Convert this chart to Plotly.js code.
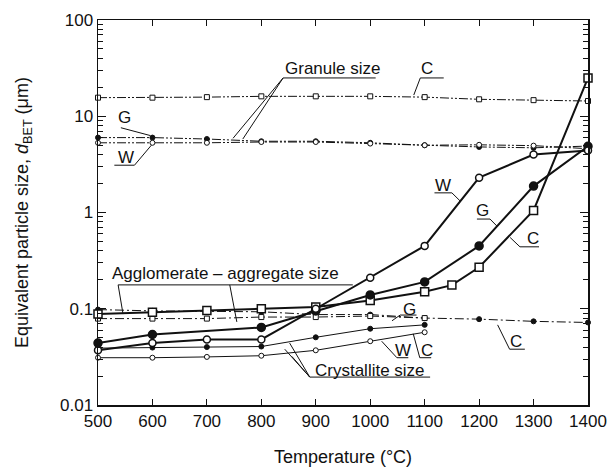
<!DOCTYPE html>
<html>
<head>
<meta charset="utf-8">
<script src="https://cdn.plot.ly/plotly-3.0.1.min.js"></script>
<style>
  html, body { margin: 0; padding: 0; background: #fff; }
  #chart { width: 614px; height: 468px; }
</style>
</head>
<body>
<div id="chart"></div>
<script>
// Calcination temperature (°C)
const temps = [500, 600, 700, 800, 900, 1000, 1100, 1200, 1300, 1400];

// Granule size (µm)
const granuleC = [15.6, 15.6, 15.8, 16.1, 16.1, 16.1, 15.8, 15.0, 14.7, 14.4];
const granuleG = [6.0, 6.0, 5.8, 5.5, 5.5, 5.3, 5.0, 4.8, 4.7, 4.9];
const granuleW = [5.3, 5.3, 5.3, 5.4, 5.4, 5.2, 5.0, 5.05, 4.95, 4.6];

// Agglomerate-aggregate size (µm)
const aggTempsC = [500, 600, 700, 800, 900, 1000, 1100, 1150, 1200, 1300, 1400];
const aggC = [0.088, 0.092, 0.096, 0.100, 0.104, 0.122, 0.150, 0.176, 0.27, 1.05, 25];
const aggTempsG = [500, 600, 800, 900, 1000, 1100, 1200, 1300, 1400];
const aggG = [0.044, 0.054, 0.064, 0.095, 0.139, 0.19, 0.45, 1.88, 4.87];
const aggTempsW = [500, 600, 700, 800, 900, 1000, 1100, 1200, 1300, 1400];
const aggW = [0.037, 0.044, 0.048, 0.048, 0.10, 0.21, 0.45, 2.3, 4.0, 4.4];

// Fine-scale dash-dot series near 0.08 µm
const fineTempsA = [500, 600, 700, 800, 900, 1000, 1100, 1200, 1300, 1400];
const fineA = [0.098, 0.095, 0.094, 0.093, 0.087, 0.087, 0.080, 0.078, 0.074, 0.072];
const fineTempsB = [500, 600, 700, 800, 900, 1000, 1100];
const fineB = [0.079, 0.079, 0.079, 0.082, 0.082, 0.084, 0.080];

// Crystallite size (µm)
const crystTemps = [500, 600, 700, 800, 900, 1000, 1100];
const crystG = [0.039, 0.0395, 0.040, 0.0405, 0.0505, 0.062, 0.068];
const crystW = [0.031, 0.031, 0.0316, 0.0325, 0.037, 0.046, 0.057];

// Axis ticks
const xTicks = [500, 600, 700, 800, 900, 1000, 1100, 1200, 1300, 1400];
const yTickVals = [0.01, 0.1, 1, 10, 100];
const yTickText = ['0.01', '0.1', '1', '10', '100'];
const yMinorVals = [];
for (let e = -2; e < 2; e++) {
  for (let m = 2; m <= 9; m++) yMinorVals.push(m * Math.pow(10, e));
}

const INK = '#111';
const FONT = 'Liberation Sans, Arial, sans-serif';
const granuleDash = '9px,2px,2px,2px,2px,2px';
const dashDot = '9px,3px,2px,3px';

function series(x, y, o) {
  return {
    x: x, y: y, type: 'scatter', mode: 'lines+markers', hoverinfo: 'skip',
    cliponaxis: false,
    line: { color: INK, width: o.w, dash: o.dash || 'solid' },
    marker: { symbol: o.sym, size: o.size, color: o.fill ? INK : '#fff',
              line: { color: INK, width: o.mw || 1 } }
  };
}

const traces = [
  series(temps, granuleC, { w: 1, dash: granuleDash, sym: 'square', size: 5 }),
  series(temps, granuleG, { w: 1, dash: granuleDash, sym: 'circle', size: 5, fill: true }),
  series(temps, granuleW, { w: 1, dash: granuleDash, sym: 'circle', size: 5 }),
  series(fineTempsA, fineA, { w: 1, dash: dashDot, sym: 'circle', size: 5, fill: true }),
  series(fineTempsB, fineB, { w: 1, dash: dashDot, sym: 'square', size: 5 }),
  series(crystTemps, crystG, { w: 1, sym: 'circle', size: 5, fill: true }),
  series(crystTemps, crystW, { w: 1, sym: 'circle', size: 5 }),
  series(aggTempsC, aggC, { w: 2, sym: 'square', size: 8, mw: 1.5 }),
  series(aggTempsG, aggG, { w: 2, sym: 'circle', size: 8, fill: true, mw: 1.5 }),
  series(aggTempsW, aggW, { w: 2, sym: 'circle', size: 7, mw: 1.5 })
];

// Labels, underlines and leader lines in data coordinates
const lbl = [];
const shp = [];
function text(x, y, s, size, anchor) {
  lbl.push({ x: x, y: Math.log10(y), xref: 'x', yref: 'y', text: s, showarrow: false,
             xanchor: anchor || 'center', yanchor: 'middle',
             font: { family: FONT, size: size || 17, color: INK } });
}
function seg(x0, y0, x1, y1) {
  shp.push({ type: 'line', xref: 'x', yref: 'y', x0: x0, y0: y0, x1: x1, y1: y1,
             line: { color: INK, width: 1 } });
}

// Granule size
text(840, 31.6, 'Granule size', 17, 'left');
seg(840, 25, 1010, 25);
seg(840, 25, 748, 5.9);
seg(840, 25, 766, 5.8);
text(1104, 31.6, 'C', 17);
seg(1092, 25, 1135, 25);
seg(1092, 25, 1080, 16.6);
text(548, 9.6, 'G', 17);
seg(542, 7.6, 596, 6.3);
text(552, 3.7, 'W', 17);
seg(530, 3.1, 567, 3.1);
seg(567, 3.1, 598, 5.0);

// Agglomerate-aggregate size
text(522, 0.23, 'Agglomerate – aggregate size', 17, 'left');
seg(537, 0.177, 968, 0.177);
seg(537, 0.177, 546, 0.088);
seg(742, 0.177, 755, 0.073);
text(1133, 1.93, 'W', 17);
seg(1118, 1.6, 1150, 1.6);
seg(1150, 1.6, 1165, 1.32);
text(1207, 1.06, 'G', 17);
seg(1196, 0.855, 1220, 0.855);
seg(1220, 0.855, 1233, 0.72);
text(1299, 0.543, 'C', 17);
seg(1275, 0.44, 1310, 0.44);
seg(1275, 0.44, 1257, 0.55);

// Fine dash-dot labels
text(1073, 0.099, 'G', 17);
seg(1055, 0.086, 1085, 0.086);
seg(1055, 0.086, 1040, 0.075);
text(1268, 0.0455, 'C', 17);
seg(1256, 0.038, 1284, 0.038);
seg(1256, 0.038, 1234, 0.068);

// Crystallite size
text(1060, 0.037, 'W', 17);
seg(1021, 0.046, 1049, 0.031);
seg(1049, 0.031, 1070, 0.031);
text(1104, 0.037, 'C', 17);
seg(1079, 0.055, 1091, 0.031);
seg(1091, 0.031, 1112, 0.031);
text(999, 0.0231, 'Crystallite size', 17);
seg(889, 0.0195, 1110, 0.0195);
seg(889, 0.0195, 852, 0.044);
seg(889, 0.0195, 843, 0.038);
seg(889, 0.0195, 856, 0.032);

const layout = {
  width: 614, height: 468,
  margin: { l: 98, r: 26, t: 20, b: 63 },
  paper_bgcolor: '#fff', plot_bgcolor: '#fff',
  showlegend: false,
  font: { family: FONT, color: INK },
  xaxis: {
    range: [500, 1400], tickvals: xTicks, ticktext: xTicks.map(String),
    ticks: 'inside', ticklen: 6, tickwidth: 1, tickcolor: INK,
    showline: true, linecolor: INK, linewidth: 1.5, mirror: 'allticks',
    showgrid: false, zeroline: false,
    tickfont: { size: 17, color: INK },
    title: { text: 'Temperature (°C)', font: { size: 18, color: INK }, standoff: 20 }
  },
  yaxis: {
    type: 'log', range: [-2, 2], tickvals: yTickVals, ticktext: yTickText,
    ticks: 'inside', ticklen: 8, tickwidth: 1, tickcolor: INK,
    minor: { tickvals: yMinorVals, ticks: 'inside', ticklen: 5, tickwidth: 1,
             tickcolor: INK, showgrid: false },
    showline: true, linecolor: INK, linewidth: 1.5, mirror: 'allticks',
    showgrid: false, zeroline: false,
    tickfont: { size: 17, color: INK },
    title: { text: 'Equivalent particle size, <i>d</i><sub>BET</sub> (μm)',
             font: { size: 18, color: INK }, standoff: 26 }
  },
  annotations: lbl,
  shapes: shp
};

Plotly.newPlot('chart', traces, layout, { staticPlot: true, displayModeBar: false });
</script>
</body>
</html>
